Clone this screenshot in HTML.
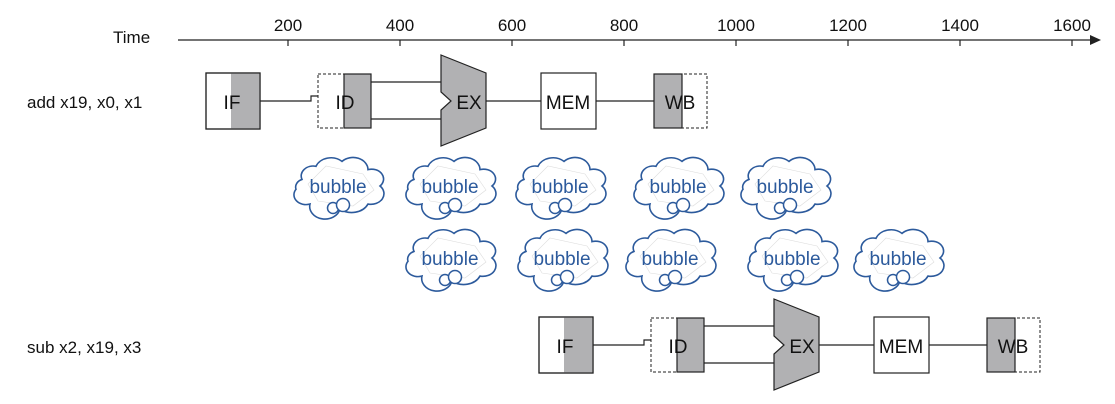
<!DOCTYPE html>
<html><head><style>body{margin:0;background:#fff}svg{display:block}</style></head><body>
<svg width="1115" height="404" viewBox="0 0 1115 404" xmlns="http://www.w3.org/2000/svg" font-family="Liberation Sans, sans-serif">
<defs>
<g id="pipe">
  <rect x="206" y="73" width="54" height="56" fill="#fff" stroke="#222" stroke-width="1.2"/>
  <rect x="231" y="73.6" width="28.4" height="54.8" fill="#b1b1b3"/>
  <rect x="206" y="73" width="54" height="56" fill="none" stroke="#222" stroke-width="1.2"/>
  <text x="232" y="109" font-size="19" text-anchor="middle" fill="#111">IF</text>
  <path d="M260 101H311V96H318" fill="none" stroke="#222" stroke-width="1.2"/>
  <rect x="318" y="74" width="53" height="54" fill="#fff" stroke="#222" stroke-width="1" stroke-dasharray="3,2"/>
  <rect x="344" y="74" width="27" height="54" fill="#b1b1b3" stroke="#222" stroke-width="1.2"/>
  <text x="345" y="109" font-size="19" text-anchor="middle" fill="#111">ID</text>
  <path d="M371 82H441M371 119H441" fill="none" stroke="#222" stroke-width="1.2"/>
  <path d="M441 55L486 73V128L441 146V110L451 101L441 92Z" fill="#b1b1b3" stroke="#222" stroke-width="1.2"/>
  <text x="469" y="109" font-size="19" text-anchor="middle" fill="#111">EX</text>
  <path d="M486 101H541M596 101H654" fill="none" stroke="#222" stroke-width="1.2"/>
  <rect x="541" y="73" width="55" height="56" fill="#fff" stroke="#222" stroke-width="1.2"/>
  <text x="568" y="109" font-size="19" text-anchor="middle" fill="#111">MEM</text>
  <rect x="654" y="74" width="53" height="54" fill="#fff" stroke="#222" stroke-width="1" stroke-dasharray="3,2"/>
  <rect x="654" y="74" width="28" height="54" fill="#b1b1b3" stroke="#222" stroke-width="1.2"/>
  <text x="680" y="109" font-size="19" text-anchor="middle" fill="#111">WB</text>
</g>
<g id="cloud">
  <path transform="scale(1,0.82)" d="M-36-8 A12 12 0 0 1 -22-24 A16 16 0 0 1 4-30 A15 15 0 0 1 30-20 A12 12 0 0 1 42 0 A13 13 0 0 1 30 22 A18 18 0 0 1 2 28 A15 15 0 0 1 -28 22 A12 12 0 0 1 -42 4 A10 10 0 0 1 -36 -8Z" fill="#fff" stroke="#2c5a9c" stroke-width="1.6" vector-effect="non-scaling-stroke"/>
  <path d="M-30-2L-12-20L25-12L36 4L15 20L-20 15Z" fill="none" stroke="#ddd" stroke-width="0.6"/>
  <circle cx="-5" cy="22" r="5.5" fill="#fff" stroke="#2c5a9c" stroke-width="1.5"/>
  <circle cx="5" cy="19" r="6.5" fill="#fff" stroke="#2c5a9c" stroke-width="1.5"/>
  <text x="0" y="7" font-size="19" text-anchor="middle" fill="#2c5a9c">bubble</text>
</g>
</defs>
<text x="113" y="43" font-size="17" fill="#111">Time</text>
<path d="M178 40H1094" stroke="#222" stroke-width="1.2"/>
<path d="M1090 35L1101 40L1090 45Z" fill="#222"/>
<g stroke="#222" stroke-width="1.2">
<path d="M288 40V46M400 40V46M512 40V46M624 40V46M736 40V46M848 40V46M960 40V46M1072 40V46"/>
</g>
<g font-size="17" fill="#111" text-anchor="middle">
<text x="288" y="31">200</text><text x="400" y="31">400</text><text x="512" y="31">600</text><text x="624" y="31">800</text><text x="736" y="31">1000</text><text x="848" y="31">1200</text><text x="960" y="31">1400</text><text x="1072" y="31">1600</text>
</g>
<text x="27" y="108" font-size="17" fill="#111">add x19, x0, x1</text>
<text x="27" y="353" font-size="17" fill="#111">sub x2, x19, x3</text>
<use href="#pipe"/>
<use href="#pipe" transform="translate(333,244)"/>
<use href="#cloud" transform="translate(338,186)"/>
<use href="#cloud" transform="translate(450,186)"/>
<use href="#cloud" transform="translate(560,186)"/>
<use href="#cloud" transform="translate(678,186)"/>
<use href="#cloud" transform="translate(785,186)"/>
<use href="#cloud" transform="translate(450,258)"/>
<use href="#cloud" transform="translate(562,258)"/>
<use href="#cloud" transform="translate(670,258)"/>
<use href="#cloud" transform="translate(792,258)"/>
<use href="#cloud" transform="translate(898,258)"/>
</svg>
</body></html>
